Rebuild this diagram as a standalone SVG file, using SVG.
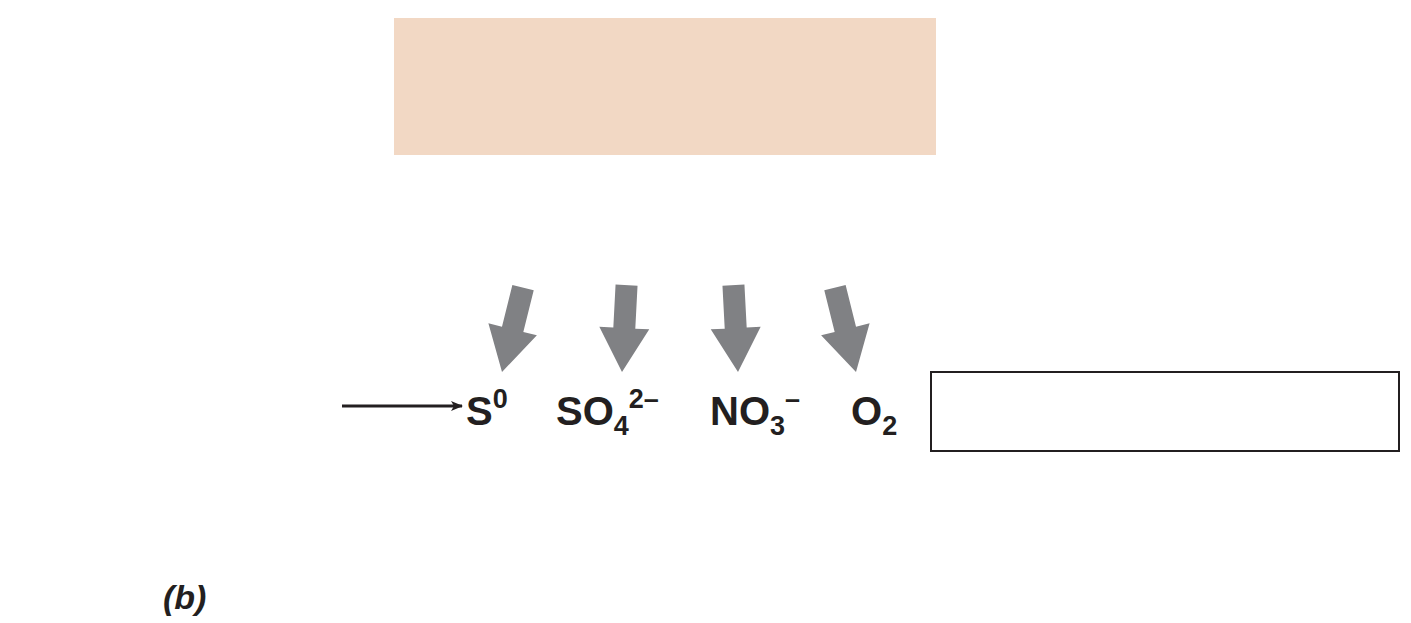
<svg xmlns="http://www.w3.org/2000/svg" width="1411" height="623" viewBox="0 0 1411 623">
<defs>
<style>
.t{font-family:"Liberation Sans",Arial,sans-serif;font-weight:bold;font-size:40px;fill:#231f20}
.s{font-size:27px}
.g{fill:#808184}
</style>
<polygon id="ga" points="-11,-87 11,-87 11,-44 25,-44 0,0 -25,-44 -11,-44"/>
<marker id="ah" markerWidth="12" markerHeight="10" refX="11" refY="5" orient="auto" markerUnits="userSpaceOnUse"><path d="M0,0 L12,5 L0,10 L3,5 Z" fill="#231f20"/></marker>
</defs>
<g id="top-box"><rect x="394" y="18" width="542" height="137" fill="#f2d8c4"/></g>
<g id="right-box"><rect x="931" y="372" width="468" height="79" fill="#fff" stroke="#231f20" stroke-width="2"/></g>
<g id="connectors">
<line x1="342" y1="406" x2="462" y2="406" stroke="#231f20" stroke-width="3" marker-end="url(#ah)"/>
<use href="#ga" class="g" transform="translate(502,372) rotate(14)"/>
<use href="#ga" class="g" transform="translate(622,372) rotate(3)"/>
<use href="#ga" class="g" transform="translate(738,372) rotate(-3)"/>
<use href="#ga" class="g" transform="translate(856,372) rotate(-14)"/>
</g>
<g id="labels">
<text class="t" x="466" y="425">S<tspan class="s" dy="-17">0</tspan></text>
<text class="t" x="556" y="425">SO<tspan class="s" dy="10">4</tspan><tspan class="s" dy="-27">2–</tspan></text>
<text class="t" x="710" y="425">NO<tspan class="s" dy="10">3</tspan><tspan class="s" dy="-27">–</tspan></text>
<text class="t" x="851" y="425">O<tspan class="s" dy="10">2</tspan></text>
</g>
<g id="caption"><text x="163" y="609" style="font-family:'Liberation Sans',Arial,sans-serif;font-weight:bold;font-style:italic;font-size:34px;fill:#231f20">(b)</text></g>
</svg>
